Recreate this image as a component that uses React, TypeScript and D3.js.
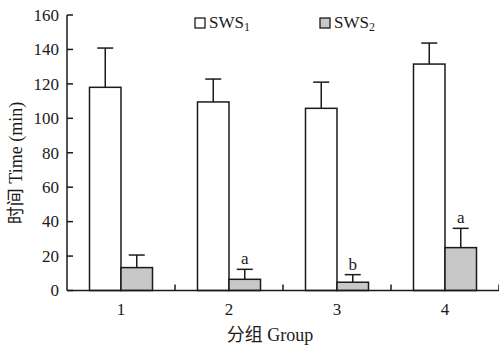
import React from 'react';
import * as d3 from 'd3';

// values
const groups = ['1', '2', '3', '4'];
const sws1 = [118, 109.5, 105.8, 131.5];
const sws1Err = [22.8, 13.3, 15.2, 12.2];
const sws2 = [13.3, 6.5, 4.8, 24.9];
const sws2Err = [7.3, 5.8, 4.4, 11.2];
const sws2Marks = ['', 'a', 'b', 'a'];
const yTicks = [0, 20, 40, 60, 80, 100, 120, 140, 160];

const W = 499;
const H = 347;
const margin = { top: 15, right: 0, bottom: 56.5, left: 67 };
const serif = '"Liberation Serif", "Times New Roman", serif';
const cjk = '"Noto Sans CJK SC", sans-serif';
const ink = '#1a1a1a';

export default function App() {
  const x = d3
    .scaleBand<string>()
    .domain(groups)
    .range([margin.left, W - margin.right])
    .padding(0);
  const y = d3
    .scaleLinear()
    .domain([0, 160])
    .range([H - margin.bottom, margin.top]);

  const barW = 31.5;
  const capW = 8;
  const y0 = y(0);

  // one bar + its error bar
  const bar = (key: string, left: number, v: number, e: number, fill: string) => {
    const cx = left + barW / 2;
    return (
      <g key={key}>
        <line x1={cx} x2={cx} y1={y(v)} y2={y(v + e)} stroke={ink} strokeWidth={1.5} />
        <line x1={cx - capW} x2={cx + capW} y1={y(v + e)} y2={y(v + e)} stroke={ink} strokeWidth={1.5} />
        <rect x={left} y={y(v)} width={barW} height={y0 - y(v)} fill={fill} stroke={ink} strokeWidth={1.5} />
      </g>
    );
  };

  return (
    <svg width={W} height={H} style={{ position: 'absolute', left: 0, top: 0, background: '#fff' }}>
      {/* bars */}
      {groups.map((g, i) => {
        const c = (x(g) ?? 0) + x.bandwidth() / 2;
        return (
          <g key={g}>
            {bar('a' + g, c - barW, sws1[i], sws1Err[i], '#fff')}
            {bar('b' + g, c, sws2[i], sws2Err[i], '#c8c8c8')}
            {sws2Marks[i] && (
              <text
                x={c + barW / 2}
                y={y(sws2[i] + sws2Err[i]) - 5}
                textAnchor="middle"
                fontFamily={serif}
                fontSize={17}
                fill={ink}
              >
                {sws2Marks[i]}
              </text>
            )}
          </g>
        );
      })}

      {/* y axis */}
      <line x1={margin.left} x2={margin.left} y1={y(160)} y2={y0} stroke={ink} strokeWidth={1.5} />
      {yTicks.map((t) => (
        <g key={t}>
          <line x1={margin.left} x2={margin.left + 6} y1={y(t)} y2={y(t)} stroke={ink} strokeWidth={1.5} />
          <text
            x={margin.left - 8}
            y={y(t)}
            dy="0.34em"
            textAnchor="end"
            fontFamily={serif}
            fontSize={17}
            fill={ink}
          >
            {t}
          </text>
        </g>
      ))}

      {/* x axis */}
      <line x1={margin.left} x2={W - margin.right} y1={y0} y2={y0} stroke={ink} strokeWidth={1.5} />
      {groups.map((g) => (
        <g key={'t' + g}>
          <line
            x1={(x(g) ?? 0) + x.bandwidth()}
            x2={(x(g) ?? 0) + x.bandwidth()}
            y1={y0}
            y2={y0 - 6}
            stroke={ink}
            strokeWidth={1.5}
          />
          <text
            x={(x(g) ?? 0) + x.bandwidth() / 2}
            y={y0 + 24}
            textAnchor="middle"
            fontFamily={serif}
            fontSize={17}
            fill={ink}
          >
            {g}
          </text>
        </g>
      ))}

      {/* axis titles */}
      <text x={270} y={341} textAnchor="middle" fontSize={18} fill={ink}>
        <tspan fontFamily={cjk}>分组</tspan>
        <tspan fontFamily={serif}> Group</tspan>
      </text>
      <text transform="translate(22,163) rotate(-90)" textAnchor="middle" fontSize={18} fill={ink}>
        <tspan fontFamily={cjk}>时间</tspan>
        <tspan fontFamily={serif}> Time (min)</tspan>
      </text>

      {/* legend */}
      <rect x={195} y={18} width={10} height={10} fill="#fff" stroke={ink} strokeWidth={1.3} />
      <text x={209} y={28} fontFamily={serif} fontSize={17} fill={ink}>
        SWS<tspan fontSize={12} dy={3}>1</tspan>
      </text>
      <rect x={320} y={18} width={10} height={10} fill="#c8c8c8" stroke={ink} strokeWidth={1.3} />
      <text x={334} y={28} fontFamily={serif} fontSize={17} fill={ink}>
        SWS<tspan fontSize={12} dy={3}>2</tspan>
      </text>
    </svg>
  );
}
